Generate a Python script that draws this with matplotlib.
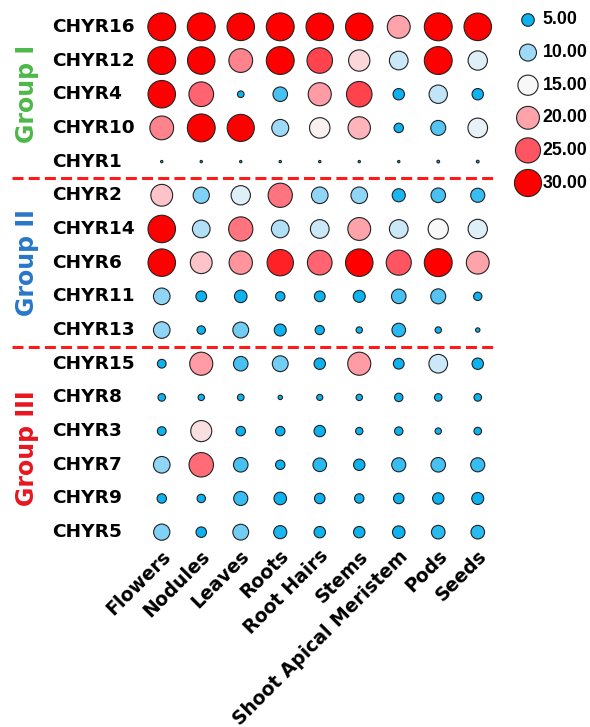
import numpy as np
import matplotlib.pyplot as plt
from matplotlib.colors import LinearSegmentedColormap, Normalize
from matplotlib.transforms import ScaledTranslation

# tissues (columns) and genes (rows, top to bottom)
tissues = ["Flowers", "Nodules", "Leaves", "Roots", "Root Hairs", "Stems",
           "Shoot Apical Meristem", "Pods", "Seeds"]

group1_genes = ["CHYR16", "CHYR12", "CHYR4", "CHYR10", "CHYR1"]
group1_vals = [
    [32, 32, 31, 32, 31, 31, 20, 32, 31],
    [32, 31, 22, 32, 26, 17, 12.5, 32, 13.5],
    [31, 24, 1.2, 7, 20.5, 26, 4, 12, 4],
    [22, 32, 30, 10, 15.5, 19, 2.6, 7.5, 14],
    [0.15, 0.15, 0.15, 0.15, 0.15, 0.15, 0.15, 0.2, 0.2],
]
group2_genes = ["CHYR2", "CHYR14", "CHYR6", "CHYR11", "CHYR13"]
group2_vals = [
    [18, 9, 13.5, 23, 9.5, 9.5, 5.5, 7, 6.5],
    [31, 11, 23, 11, 12.5, 20, 12.5, 15, 13.5],
    [31, 18, 21, 28, 24, 31, 25, 32, 20],
    [9.5, 3.5, 5, 2.6, 3.5, 4.5, 7, 7.5, 2],
    [9.5, 2, 8.5, 4.5, 2.5, 1.1, 6, 1.1, 0.5],
]
group3_genes = ["CHYR15", "CHYR8", "CHYR3", "CHYR7", "CHYR9", "CHYR5"]
group3_vals = [
    [2.2, 20.5, 7, 8.5, 4, 20.5, 3.5, 12.5, 4],
    [1.6, 1.1, 1.2, 0.5, 1.0, 1.1, 2, 1.6, 1.6],
    [2.2, 16.5, 2.6, 2.6, 4, 1.5, 2, 1.1, 1.6],
    [9.5, 23.5, 7, 2.6, 6, 4, 6.5, 7, 6.5],
    [2.6, 2, 6.5, 5, 3.3, 2.6, 3.3, 4, 4.5],
    [9, 3.3, 8.5, 5.5, 4, 4, 5, 6, 6],
]

groups = ["Group I", "Group II", "Group III"]
group_colors = ["#4DB848", "#2877C8", "#E8161E"]
legend_values = [5, 10, 15, 20, 25, 30]

genes = group1_genes + group2_genes + group3_genes
vals = np.array(group1_vals + group2_vals + group3_vals)

cmap = LinearSegmentedColormap.from_list(
    "bwr_custom",
    [(0.0, "#0DB2F0"), (0.2, "#9ED9F6"), (0.4, "#F8F8F8"),
     (0.6, "#FFA3AB"), (0.8, "#FF5562"), (1.0, "#FF0000")])
norm = Normalize(5, 30)


def dot_size(v):
    # diameter grows roughly like v^0.41 (read from the legend)
    d = 0.72 * 13.4 * (np.asarray(v, dtype=float) / 5) ** 0.41 - 0.6
    return np.clip(d, 0.5, None) ** 2


fig = plt.figure(figsize=(5.9, 7.27), dpi=100)
ax = fig.add_axes([142 / 590, 178 / 727, 355.5 / 590, 539 / 727])

xx, yy = np.meshgrid(np.arange(len(tissues)), np.arange(len(genes)))
ax.scatter(xx.ravel(), yy.ravel(), s=dot_size(vals.ravel()),
           c=vals.ravel(), cmap=cmap, norm=norm,
           edgecolors="#222222", linewidths=0.8, zorder=3, clip_on=False)

ax.set_xlim(-0.5, len(tissues) - 0.5)
ax.set_ylim(len(genes) - 0.5, -0.5)
for sp in ax.spines.values():
    sp.set_visible(False)
ax.set_yticks([])
ax.set_xticks(range(len(tissues)))
ax.set_xticklabels(tissues, rotation=45, ha="right", va="center",
                   rotation_mode="anchor", fontweight="bold", fontsize=13.5)
ax.tick_params(axis="x", length=0, pad=3)
shift = ScaledTranslation(6 / 100, 0, fig.dpi_scale_trans)
for lbl in ax.get_xticklabels():
    lbl.set_transform(lbl.get_transform() + shift)

# gene names, left aligned
for i, g in enumerate(genes):
    ax.text(-0.253, i, g, transform=ax.get_yaxis_transform(), ha="left",
            va="center", fontsize=13.3, fontweight="bold")

# group separators and labels
n1, n2 = len(group1_genes), len(group2_genes)
for yb in [n1 - 0.5, n1 + n2 - 0.5]:
    ax.plot([-3.8, 8.48], [yb, yb], color="#FF1A1A", lw=2.2,
            ls=(0, (3.6, 1.7)), clip_on=False)

centers = [(n1 - 1) / 2, n1 + (n2 - 1) / 2,
           n1 + n2 + (len(group3_genes) - 1) / 2]
for name, col, yc in zip(groups, group_colors, centers):
    ax.text(-0.3235, yc, name, transform=ax.get_yaxis_transform(),
            rotation=90, ha="center", va="center", fontsize=17,
            fontweight="bold", color=col)

# size/colour legend
lax = fig.add_axes([510 / 590, (727 - (3.7 + 195.6)) / 727, 80 / 590, 195.6 / 727])
lax.set_xlim(0, 1)
lax.set_ylim(len(legend_values) - 0.5, -0.5)
lax.axis("off")
ly = np.arange(len(legend_values))
lax.scatter(np.full(len(ly), 0.225), ly, s=dot_size(legend_values),
            c=legend_values, cmap=cmap, norm=norm,
            edgecolors="#222222", linewidths=0.8, clip_on=False)
for y, v in zip(ly, legend_values):
    lax.text(0.41, y, f"{v:.2f}", ha="left", va="center", fontsize=12.8,
             fontweight="bold", family="Liberation Sans")

fig.savefig("out.png", dpi=100)
